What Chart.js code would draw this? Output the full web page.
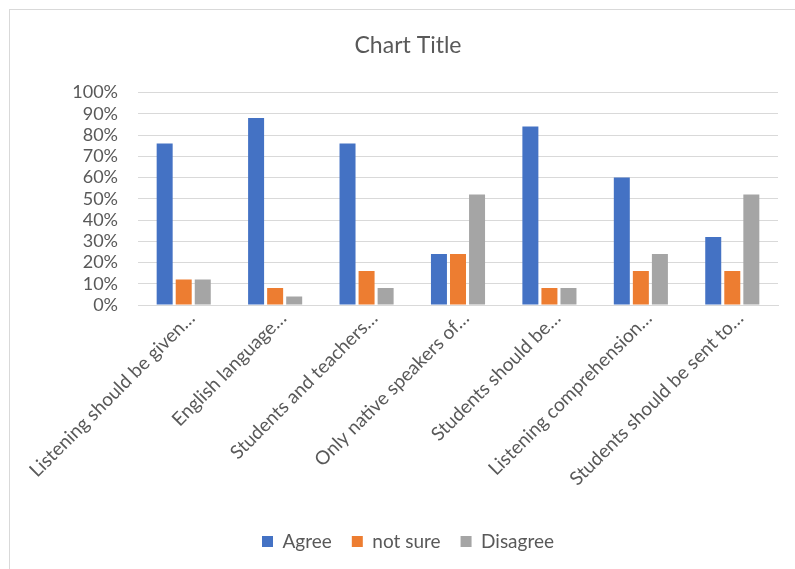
<!DOCTYPE html>
<html>
<head>
<meta charset="utf-8">
<script src="https://cdn.jsdelivr.net/npm/chart.js@4.4.0/dist/chart.umd.min.js"></script>
<style>
  html, body { margin: 0; padding: 0; background: #ffffff; overflow: hidden; }
  #wrap { position: absolute; left: 0; top: 0; width: 795px; height: 569px; }
  #frame { position: absolute; left: 9px; top: 9px; width: 800px; height: 580px; border: 1px solid #d9d9d9; box-sizing: border-box; }
  canvas { position: absolute; left: 0; top: 0; }
</style>
</head>
<body>
<div id="wrap">
  <div id="frame"></div>
  <canvas id="c" width="795" height="569"></canvas>
</div>
<script>
const categories = [
  "Listening should be given…",
  "English language…",
  "Students and teachers…",
  "Only native speakers of…",
  "Students should be…",
  "Listening comprehension…",
  "Students should be sent to…"
];
const agree    = [76, 88, 76, 24, 84, 60, 32];
const notSure  = [12,  8, 16, 24,  8, 16, 16];
const disagree = [12,  4,  8, 52,  8, 24, 52];
const yTicks = [0, 10, 20, 30, 40, 50, 60, 70, 80, 90, 100];

const FONT = "Lato, 'Open Sans', sans-serif";
const GRAY = "#595959";

new Chart(document.getElementById('c'), {
  type: 'bar',
  data: {
    labels: categories,
    datasets: [
      { label: 'Agree', data: agree, backgroundColor: '#4472C4' },
      { label: 'not sure', data: notSure, backgroundColor: '#ED7D31' },
      { label: 'Disagree', data: disagree, backgroundColor: '#A5A5A5' }
    ]
  },
  options: {
    responsive: false,
    animation: false,
    devicePixelRatio: 1,
    layout: { padding: { top: 32, left: 24, right: 3, bottom: 8 } },
    datasets: { bar: { barPercentage: 0.84, categoryPercentage: 0.625 } },
    plugins: {
      title: {
        display: true,
        text: 'Chart Title',
        color: GRAY,
        font: { family: FONT, size: 23, weight: 'normal' },
        padding: { top: 0, bottom: 33 }
      },
      legend: {
        position: 'bottom',
        labels: {
          color: GRAY,
          font: { family: FONT, size: 19 },
          boxWidth: 11,
          boxHeight: 11,
          padding: 20
        }
      },
      tooltip: { enabled: false }
    },
    scales: {
      x: {
        afterFit: (axis) => { axis.height = 207; },
        grid: { display: false, drawTicks: false },
        border: { display: true, color: '#d9d9d9', width: 1 },
        ticks: {
          color: GRAY,
          font: { family: FONT, size: 19 },
          minRotation: 45,
          maxRotation: 45,
          autoSkip: false,
          padding: 2,
          labelOffset: 8
        }
      },
      y: {
        min: 0,
        max: 100,
        afterBuildTicks: (axis) => { axis.ticks = yTicks.map(v => ({ value: v })); },
        afterFit: (axis) => { axis.width = 114; },
        grid: { color: '#d9d9d9', lineWidth: 1, drawTicks: false },
        border: { display: false },
        ticks: {
          color: GRAY,
          font: { family: FONT, size: 18 },
          padding: 20,
          autoSkip: false,
          callback: (v) => v + '%'
        }
      },
      yRight: {
        position: 'right',
        display: true,
        min: 0,
        max: 100,
        afterFit: (axis) => { axis.width = 14; },
        grid: { display: false, drawTicks: false },
        border: { display: false },
        ticks: { display: false }
      }
    }
  }
});
</script>
</body>
</html>
